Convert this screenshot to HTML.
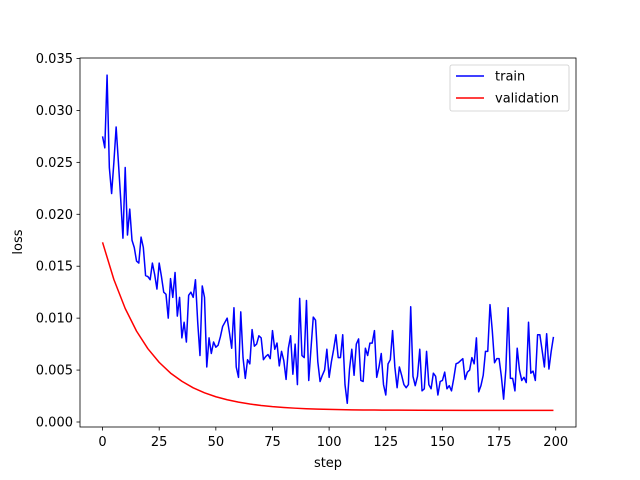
<!DOCTYPE html>
<html><head><meta charset="utf-8"><style>
body{margin:0;background:#fff}
svg{display:block;font-family:"DejaVu Sans","Liberation Sans",sans-serif}
</style></head><body>
<svg id="chart" width="640" height="480" xmlns="http://www.w3.org/2000/svg"></svg>
<script>
const trainLoss=[27.5,26.4,33.4,24.5,22,25,28.4,25,21.5,17.7,24.5,18,20.5,17.5,16.8,15.5,15.3,17.8,16.8,14.1,14,
13.7,15.3,14.2,12.8,15.3,14,12.5,12.3,10,13.8,12,14.4,10.2,12,8.1,9.6,7.7,12.2,12.5,12,
13.7,9.6,6.4,13.1,12,5.3,8.1,6.6,7.7,7.2,7.4,8.2,9.2,9.6,10,8.6,7.1,11,5.3,4.3,
10.6,6.2,4.2,6,5.6,8.9,7.3,7.5,8.3,8.1,6,6.3,6.5,6.1,8.8,7,7.6,5.4,6.8,5.9,
4.1,7.1,8.3,4.6,7.5,3.6,11.9,6.4,6.2,11.7,4,7.1,10.1,9.8,5.8,3.9,4.5,5,7,4.3,
5.8,7,8.4,6.2,6.2,8.4,3.6,1.8,5.1,7,4.5,7.5,8,4,3.9,7.1,6.4,7.6,7.6,8.8,
4.3,5.3,6.6,3.6,2.6,5.6,6,8.8,5.3,3.3,5.3,4.5,3.6,3.3,3.6,11.1,4.4,3.5,4.4,7,
3,3.2,6.8,3.6,3.2,4.7,4.4,2.6,3.9,4,4.8,3.2,3.5,3,4.2,5.6,5.7,5.9,6.1,4.1,
4.8,5,6.2,5.6,8.1,2.9,3.5,4.5,6.8,6.8,11.3,8.8,5.7,6.1,6.1,4.4,2.2,5.1,11,4.2,
4.2,3,7.1,5,4,4.3,3.8,9.6,4.7,4.9,4,8.4,8.4,6.9,5.3,8.5,5.1,6.8,8.2];
const valSteps=[0,5,10,15,20,25,30,35,40,45,50,55,60,65,70,75,80,85,90,95,100,105,110,115,120,130,140,160,180,199];
const valLoss=[17.3,13.72,10.93,8.75,7.06,5.74,4.71,3.92,3.29,2.81,2.43,2.14,1.91,1.73,1.59,1.48,1.40,1.33,1.28,1.24,1.21,1.19,1.17,1.16,1.15,1.14,1.13,1.12,1.12,1.12];
const xTicks=[0,25,50,75,100,125,150,175,200];
const yTicks=[0,0.005,0.010,0.015,0.020,0.025,0.030,0.035];

const svg=document.getElementById('chart');
const NS='http://www.w3.org/2000/svg';
const L=80,R=576,T=58,B=427;
const xMin=-9.95,xMax=208.95;
function X(v){return L+(v-xMin)/(xMax-xMin)*(R-L);}
function Y(v){return 422-v/0.035*363.5;}
function mk(tag,a,parent){const e=document.createElementNS(NS,tag);for(const k in a)e.setAttribute(k,a[k]);(parent||svg).appendChild(e);return e;}

const frame=mk('rect',{x:L,y:T,width:R-L,height:B-T,fill:'#fff',stroke:'#000','stroke-width':0.8});



xTicks.forEach(t=>{
  const g=mk('g',{});
  
  
  mk('line',{x1:X(t),x2:X(t),y1:B,y2:B+3.5,stroke:'#000','stroke-width':0.8},g);
  const tx=mk('text',{x:X(t),y:B+19,'font-size':13,'text-anchor':'middle'},g);tx.textContent=t;
});
yTicks.forEach(t=>{
  const g=mk('g',{});
  
  
  mk('line',{x1:L-3.5,x2:L,y1:Y(t),y2:Y(t),stroke:'#000','stroke-width':0.8},g);
  const tx=mk('text',{x:L-7,y:Y(t)+4.5,'font-size':13,'text-anchor':'end'},g);tx.textContent=t.toFixed(3);
});
const xl=mk('text',{x:328,y:467,'font-size':13,'text-anchor':'middle'});xl.textContent='step';


const yl=mk('text',{x:22,y:242,'font-size':13,'text-anchor':'middle',transform:'rotate(-90 22 242)'});yl.textContent='loss';



const tp=mk('polyline',{points:trainLoss.map((v,i)=>X(i)+','+Y(v/1000)).join(' '),fill:'none',stroke:'#0000ff','stroke-width':1.5,'stroke-linejoin':'round'});


const vp=mk('polyline',{points:valLoss.map((v,i)=>X(valSteps[i])+','+Y(v/1000)).join(' '),fill:'none',stroke:'#ff0000','stroke-width':1.5,'stroke-linejoin':'round'});



const lg=mk('g',{});


mk('rect',{x:450,y:65,width:119,height:46,rx:2,fill:'#fff',stroke:'#ccc','stroke-width':0.8},lg);
[['train','#0000ff',76],['validation','#ff0000',98]].forEach(([n,c,y])=>{
  const e=mk('g',{},lg);
  
  
  mk('line',{x1:456,x2:484,y1:y,y2:y,stroke:c,'stroke-width':1.5},e);
  const t=mk('text',{x:495,y:y+4.5,'font-size':13},e);t.textContent=n;
});
</script>
</body></html>
